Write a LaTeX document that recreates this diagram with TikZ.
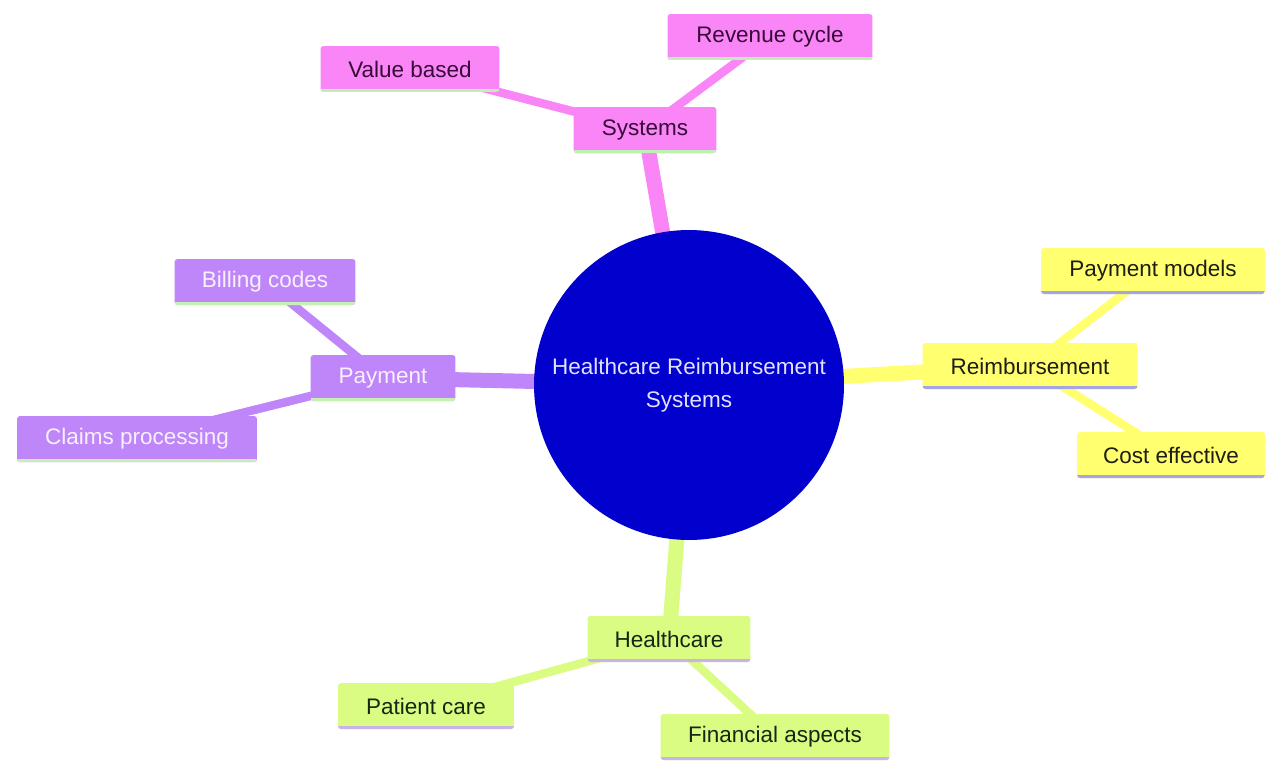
\documentclass[tikz,border=0pt]{standalone}
\usepackage{fontspec}
\setmainfont{Liberation Sans}
\usetikzlibrary{backgrounds}

\definecolor{hubfill}{RGB}{2,0,204}
\definecolor{hubtext}{RGB}{225,225,255}
\definecolor{sysfill}{RGB}{249,133,246}
\definecolor{systext}{RGB}{55,10,55}
\definecolor{sysline}{RGB}{190,240,180}
\definecolor{payfill}{RGB}{191,134,250}
\definecolor{paytext}{RGB}{248,240,255}
\definecolor{payline}{RGB}{200,240,180}
\definecolor{reifill}{RGB}{255,255,112}
\definecolor{reitext}{RGB}{30,30,20}
\definecolor{reiline}{RGB}{165,165,230}
\definecolor{hcfill}{RGB}{218,252,130}
\definecolor{hctext}{RGB}{20,40,20}
\definecolor{hcline}{RGB}{200,180,232}

\begin{document}
\begin{tikzpicture}[x=0.02cm, y=-0.02cm,
    every node/.style={font=\fontsize{12.8}{19}\selectfont},
    leaf/.style={rectangle, rounded corners=0.06cm, minimum height=0.92cm, inner sep=0pt},
    sysbox/.style={leaf, fill=sysfill, text=systext,
        path picture={\draw[line width=0.12cm, sysline] (path picture bounding box.south west) -- (path picture bounding box.south east);}},
    paybox/.style={leaf, fill=payfill, text=paytext,
        path picture={\draw[line width=0.12cm, payline] (path picture bounding box.south west) -- (path picture bounding box.south east);}},
    reibox/.style={leaf, fill=reifill, text=reitext,
        path picture={\draw[line width=0.12cm, reiline] (path picture bounding box.south west) -- (path picture bounding box.south east);}},
    hcbox/.style={leaf, fill=hcfill, text=hctext,
        path picture={\draw[line width=0.12cm, hcline] (path picture bounding box.south west) -- (path picture bounding box.south east);}},
    trunk/.style={line width=0.3cm},
    twig/.style={line width=0.17cm}]
    \useasboundingbox (0,0) rectangle (1266,761);

    % centre
    \node[circle, fill=hubfill, text=hubtext, minimum size=6.2cm, align=center] (hub) at (689,385) {Healthcare Reimbursement\\Systems};

    % top branch
    \node[sysbox, minimum width=2.86cm] (sys) at (645,130) {Systems};
    \node[sysbox, minimum width=3.58cm] (valbased) at (410,69) {Value based};
    \node[sysbox, minimum width=4.1cm] (revcycle) at (770,37) {Revenue cycle};

    % left branch
    \node[paybox, minimum width=2.9cm] (pay) at (383,378) {Payment};
    \node[paybox, minimum width=3.62cm] (billing) at (265,282) {Billing codes};
    \node[paybox, minimum width=4.8cm] (claims) at (137,439) {Claims processing};

    % right branch
    \node[reibox, minimum width=4.3cm] (reimb) at (1030,366) {Reimbursement};
    \node[reibox, minimum width=4.48cm] (paymodels) at (1153,271) {Payment models};
    \node[reibox, minimum width=3.76cm] (costeff) at (1171,455) {Cost effective};

    % bottom branch
    \node[hcbox, minimum width=3.26cm] (hc) at (669,639) {Healthcare};
    \node[hcbox, minimum width=3.52cm] (patient) at (426,706) {Patient care};
    \node[hcbox, minimum width=4.58cm] (finance) at (775,737) {Financial aspects};

    \begin{pgfonlayer}{background}
        \draw[trunk, sysfill] (hub.center) -- (sys.center);
        \draw[twig, sysfill] (sys.center) -- (valbased.center);
        \draw[twig, sysfill] (sys.center) -- (revcycle.center);
        \draw[trunk, payfill] (hub.center) -- (pay.center);
        \draw[twig, payfill] (pay.center) -- (billing.center);
        \draw[twig, payfill] (pay.center) -- (claims.center);
        \draw[trunk, reifill] (hub.center) -- (reimb.center);
        \draw[twig, reifill] (reimb.center) -- (paymodels.center);
        \draw[twig, reifill] (reimb.center) -- (costeff.center);
        \draw[trunk, hcfill] (hub.center) -- (hc.center);
        \draw[twig, hcfill] (hc.center) -- (patient.center);
        \draw[twig, hcfill] (hc.center) -- (finance.center);
    \end{pgfonlayer}
\end{tikzpicture}
\end{document}
